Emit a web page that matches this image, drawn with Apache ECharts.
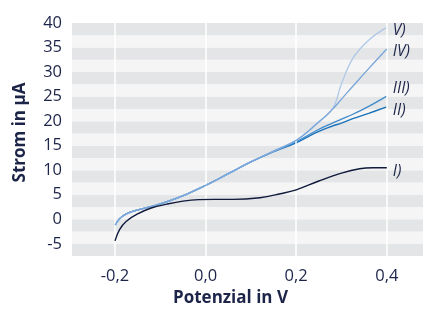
<!DOCTYPE html>
<html>
<head>
<meta charset="utf-8">
<script src="https://cdn.jsdelivr.net/npm/echarts@6/dist/echarts.min.js"></script>
<style>html,body{margin:0;padding:0;background:#fff}#c{width:423px;height:312px}</style>
</head>
<body>
<div id="c"></div>
<script>
// Potential (V) sample points
const potI = [-0.2,-0.19,-0.175,-0.15,-0.12,-0.085,-0.05,-0.015,0.02,0.06,0.12,0.165,0.2,0.25,0.3,0.34,0.37,0.4];
const currI = [-4.4,-2.1,-0.4,1.1,2.3,3.1,3.7,4.0,4.05,4.05,4.4,5.2,6.0,7.8,9.4,10.3,10.5,10.5];

const potBlue = [-0.2,-0.19,-0.175,-0.15,-0.12,-0.085,-0.04,0,0.05,0.1,0.15,0.2,0.245,0.28,0.3,0.325,0.36,0.4];
const currII  = [-1.2,0.1,1.1,1.9,2.6,3.6,5.2,6.9,9.3,11.7,13.8,15.6,17.7,19.0,19.6,20.5,21.6,22.9];
const currIII = [-1.2,0.1,1.1,1.9,2.6,3.6,5.2,6.9,9.3,11.7,13.8,15.8,18.1,19.6,20.4,21.4,23.0,25.1];
const currIV  = [-1.2,0.1,1.1,1.9,2.6,3.6,5.2,6.9,9.3,11.7,13.9,16.1,19.4,22.4,24.5,27.1,30.7,34.7];
const currV   = [-1.2,0.1,1.1,1.9,2.6,3.6,5.2,6.9,9.3,11.7,13.9,16.1,19.5,22.5,27.6,32.8,36.5,39.1];

const seriesNames = ['I)','II)','III)','IV)','V)'];
const xTicks = [-0.2,0,0.2,0.4];

const navy = '#1c2448';
const font = 'Open Sans';
const zip = (xs, ys) => xs.map((x, i) => [x, ys[i]]);

function mkLine(name, data, color, width, z, offY) {
  return {
    type: 'line', name, data, smooth: 0.4, showSymbol: false, symbol: 'none', z,
    lineStyle: { color, width },
    endLabel: { show: true, formatter: name, color: navy, fontFamily: font, fontSize: 15.5, fontStyle: 'italic',
      distance: 6, offset: [0, offY] },
    emphasis: { disabled: true }, silent: true, animation: false
  };
}

const chart = echarts.init(document.getElementById('c'), null, { renderer: 'canvas' });
chart.setOption({
  animation: false,
  grid: { left: 72, right: 0, top: 23, bottom: 51.5, containLabel: false },
  xAxis: {
    type: 'value', min: -0.295, max: 0.48,
    axisLine: { show: false }, axisTick: { show: false }, splitLine: { show: false },
    axisLabel: { customValues: xTicks, color: navy, fontFamily: font, fontSize: 16.5, margin: 12,
      formatter: v => v.toFixed(1).replace('.', ',') },
    name: 'Potenzial in V', nameLocation: 'middle', nameGap: 29,
    nameTextStyle: { color: navy, fontFamily: font, fontSize: 17, fontWeight: 'bold', padding: [0, 34, 0, 0] }
  },
  yAxis: {
    type: 'value', min: -7.5, max: 40, interval: 2.5,
    axisLine: { show: false }, axisTick: { show: false }, splitLine: { show: false },
    splitArea: { show: true, areaStyle: { color: ['#e4e5e7', '#f5f5f6'] } },
    axisLabel: { color: navy, fontFamily: font, fontSize: 16.5, margin: 10,
      formatter: v => (Math.abs(v % 5) < 1e-9 ? String(v) : '') },
    name: 'Strom in µA', nameLocation: 'middle', nameGap: 43,
    nameTextStyle: { color: navy, fontFamily: font, fontSize: 17, fontWeight: 'bold', padding: [0, 0, 0, 14] }
  },
  series: [
    {
      type: 'line', data: [], z: 1, silent: true,
      markLine: { silent: true, symbol: 'none', label: { show: false },
        lineStyle: { color: '#ffffff', width: 1.5, type: 'solid' },
        data: xTicks.map(v => ({ xAxis: v })) }
    },
    mkLine(seriesNames[1], zip(potBlue, currII), '#1a72b9', 1.4, 2, 4),
    mkLine(seriesNames[2], zip(potBlue, currIII), '#3f8bcc', 1.3, 3, -8),
    mkLine(seriesNames[4], zip(potBlue, currV), '#aec8e8', 1.3, 4, 3),
    mkLine(seriesNames[3], zip(potBlue, currIV), '#78a5da', 1.3, 5, 3),
    mkLine(seriesNames[0], zip(potI, currI), '#0f1a3c', 1.4, 6, 4)
  ]
});
</script>
</body>
</html>
